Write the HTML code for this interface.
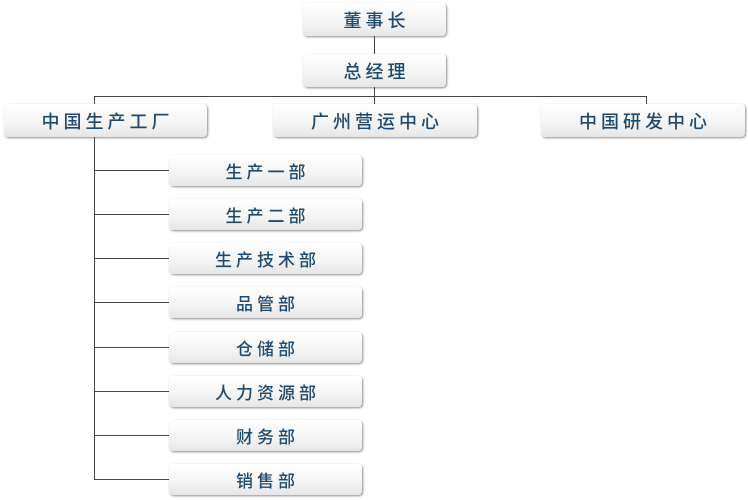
<!DOCTYPE html>
<html><head><meta charset="utf-8"><style>
body{margin:0;width:748px;height:500px;background:#fff;position:relative;overflow:hidden;font-family:"Noto Sans CJK SC",sans-serif}
.b{position:absolute;box-sizing:border-box;border-radius:4px;background:linear-gradient(#ffffff,#f4f4f4 60%,#e6e6e6);box-shadow:1px 1px 2px rgba(0,0,0,.45);color:#1d4a6e;font-weight:500;text-align:center;letter-spacing:4px;text-indent:4px}
.t{font-size:18px;height:33px;line-height:34px}
.s{font-size:17px;height:31px;line-height:32px;left:169px;width:193px}
.l{position:absolute;background:#444}
</style></head><body>
<div class="b t" style="left:303px;top:3px;width:143px">董事长</div>
<div class="b t" style="left:303px;top:54px;width:143px">总经理</div>
<div class="l" style="left:374px;top:36px;width:1px;height:18px"></div>
<div class="l" style="left:374px;top:87px;width:1px;height:10px"></div>
<div class="l" style="left:94px;top:96px;width:553px;height:1px"></div>
<div class="l" style="left:94px;top:96px;width:1px;height:8px"></div>
<div class="l" style="left:374px;top:96px;width:1px;height:8px"></div>
<div class="l" style="left:646px;top:96px;width:1px;height:8px"></div>
<div class="b t" style="left:4px;top:104px;width:203px">中国生产工厂</div>
<div class="b t" style="left:273px;top:104px;width:204px">广州营运中心</div>
<div class="b t" style="left:541px;top:104px;width:204px">中国研发中心</div>
<div class="l" style="left:94px;top:137px;width:1px;height:343px"></div>
<div class="l" style="left:94px;top:170px;width:75px;height:1px"></div>
<div class="l" style="left:94px;top:214px;width:75px;height:1px"></div>
<div class="l" style="left:94px;top:258px;width:75px;height:1px"></div>
<div class="l" style="left:94px;top:302px;width:75px;height:1px"></div>
<div class="l" style="left:94px;top:347px;width:75px;height:1px"></div>
<div class="l" style="left:94px;top:391px;width:75px;height:1px"></div>
<div class="l" style="left:94px;top:435px;width:75px;height:1px"></div>
<div class="l" style="left:94px;top:479px;width:75px;height:1px"></div>
<div class="b s" style="top:155px">生产一部</div>
<div class="b s" style="top:199px">生产二部</div>
<div class="b s" style="top:243px">生产技术部</div>
<div class="b s" style="top:287px">品管部</div>
<div class="b s" style="top:332px">仓储部</div>
<div class="b s" style="top:376px">人力资源部</div>
<div class="b s" style="top:420px">财务部</div>
<div class="b s" style="top:464px">销售部</div>
</body></html>
